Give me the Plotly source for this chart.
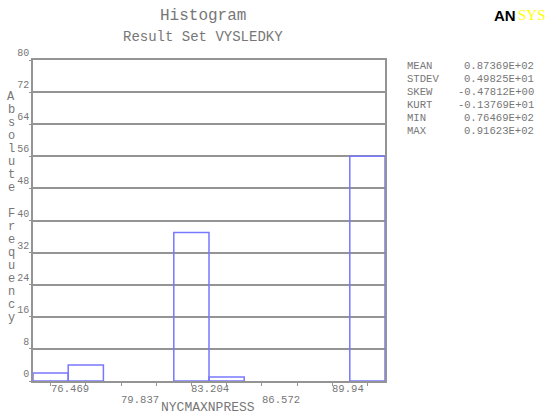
import plotly.graph_objects as go

# ---- data ----
bin_min = 76.469
bin_max = 91.623
n_bins = 10
counts = [2, 4, 0, 0, 37, 1, 0, 0, 0, 56]
tick_labels = ["76.469", "79.837", "83.204", "86.572", "89.94"]
tick_values = [76.469, 79.837, 83.204, 86.572, 89.94]
stat_names = ["MEAN", "STDEV", "SKEW", "KURT", "MIN", "MAX"]
stat_values = ["0.87369E+02", "0.49825E+01", "-0.47812E+00", "-0.13769E+01", "0.76469E+02", "0.91623E+02"]
y_title = "Absolute Frequency"
x_title = "NYCMAXNPRESS"

step = (bin_max - bin_min) / (n_bins - 1)
centers = [bin_min + k * step for k in range(n_bins)]
bx = [c for c, n in zip(centers, counts) if n > 0]
by = [n for n in counts if n > 0]

W, H = 548, 418
L, R, T, B = 33, 163, 60, 37
pw, ph = W - L - R, H - T - B
TXT = "#777777"
LINE = "#949494"
MONO = "Liberation Mono"

fig = go.Figure()
fig.add_trace(go.Bar(x=bx, y=by, width=step,
                     marker=dict(color="rgba(255,255,255,0)", line=dict(color="#7878ff", width=1.5)),
                     hoverinfo="x+y"))

fig.update_layout(
    width=W, height=H, margin=dict(l=L, r=R, t=T, b=B),
    paper_bgcolor="white", plot_bgcolor="white", showlegend=False,
    font=dict(family=MONO, color=TXT),
    xaxis=dict(range=[bin_min - step / 2, bin_max + step / 2], tickvals=centers,
               showticklabels=False, ticks="outside", ticklen=3, tickcolor=LINE,
               showgrid=False, zeroline=False, showline=True, linecolor=LINE,
               linewidth=1.5, mirror=True),
    yaxis=dict(range=[0, 80], dtick=8, tick0=0, ticks="outside", ticklen=2,
               tickcolor=LINE, ticklabelposition="outside top",
               tickfont=dict(family=MONO, size=10, color=TXT),
               showgrid=True, gridcolor=LINE, gridwidth=1.5, zeroline=False,
               showline=True, linecolor=LINE, linewidth=1.5, mirror=True),
)

def px_x(p):
    return (p - L) / pw

def px_y(p):
    return (H - B - p) / ph

def note(text, x, y, size, xanchor="center", color=TXT, family=MONO, **kw):
    return dict(text=text, x=x, y=y, xref="paper", yref="paper", xanchor=xanchor,
                yanchor="middle", showarrow=False,
                font=dict(family=family, size=size, color=color), **kw)

ann = []
# titles
ann.append(note("Histogram", px_x(203), px_y(16), 16))
ann.append(note("Result Set VYSLEDKY", px_x(203), px_y(37), 14))
# logo
ann.append(note("<b>AN</b>", px_x(518), px_y(15), 15, xanchor="right",
                color="black", family="Liberation Sans"))
ann.append(note("SYS", px_x(516), px_y(15), 15, xanchor="left",
                color="#ffff00", family="Liberation Serif"))
# x tick labels (alternating rows, left-aligned at tick)
for i, (v, lab) in enumerate(zip(tick_values, tick_labels)):
    ann.append(dict(text=lab, x=v, y=0, xref="x", yref="paper", xanchor="left",
                    yanchor="middle", xshift=-2, yshift=-8 if i % 2 == 0 else -18.5,
                    showarrow=False, font=dict(family=MONO, size=10.6, color=TXT)))
# x title
ann.append(note(x_title, px_x(208), px_y(408), 13))
# y title stacked letters
for i, ch in enumerate(y_title):
    if ch == " ":
        continue
    ann.append(note(ch, px_x(11), px_y(96.7 + i * 13), 12))
# stats block
for i, (nm, val) in enumerate(zip(stat_names, stat_values)):
    yy = px_y(66 + i * 12.9)
    ann.append(note(nm, px_x(405), yy, 10.6, xanchor="left"))
    ann.append(note(val, px_x(536), yy, 10.6, xanchor="right"))

fig.update_layout(annotations=ann)
fig.write_html("out.html", config={"displayModeBar": False},
               post_script="document.body.style.margin='0';")
